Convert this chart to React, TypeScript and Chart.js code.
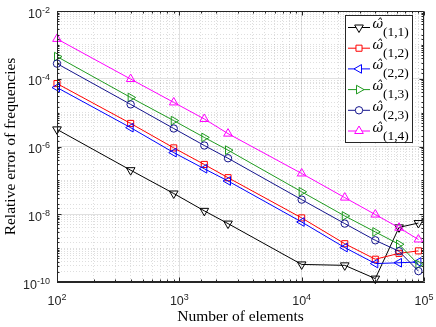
import React, { useEffect, useRef } from 'react';
import { Chart, registerables } from 'chart.js';

Chart.register(...registerables);

const elements = [100, 400, 900, 1600, 2500, 10000, 22500, 40000, 62500, 90000];
const err11 = [3.2e-6, 2.0e-7, 4.1e-8, 1.26e-8, 5.3e-9, 3.3e-10, 3.1e-10, 1.26e-10, 4.1e-9, 5.5e-9];
const err12 = [7.2e-5, 4.8e-6, 9.1e-7, 2.95e-7, 1.2e-7, 7.8e-9, 1.35e-9, 4.7e-10, 7.0e-10, 8.3e-10];
const err22 = [5.5e-5, 3.6e-6, 6.6e-7, 2.2e-7, 9.6e-8, 5.9e-9, 1.04e-9, 3.5e-10, 3.7e-10, 3.9e-10];
const err13 = [4.5e-4, 2.8e-5, 5.8e-6, 1.85e-6, 7.8e-7, 4.6e-8, 8.9e-9, 3.0e-9, 1.3e-9, 3.3e-10];
const err23 = [2.8e-4, 1.75e-5, 3.4e-6, 1.07e-6, 4.5e-7, 2.7e-8, 5.3e-9, 1.7e-9, 8.1e-10, 2.1e-10];
const err14 = [1.5e-3, 9.8e-5, 2.0e-5, 6.5e-6, 2.4e-6, 1.6e-7, 3.1e-8, 9.8e-9, 4.0e-9, 1.8e-9];

const seriesSubs = ['(1,1)', '(1,2)', '(2,2)', '(1,3)', '(2,3)', '(1,4)'];
const xTickExps = [2, 3, 4, 5];
const yTickExps = [-10, -8, -6, -4, -2];
const xTitle = 'Number of elements';
const yTitle = 'Relative error of frequencies';

const seriesValues = [err11, err12, err22, err13, err23, err14];
const seriesColors = ['#000000', '#ff0000', '#0000ff', '#1f9a1f', '#14148c', '#ff00ff'];
const seriesStyles = ['triangle', 'rect', 'triangle', 'triangle', 'circle', 'triangle'];
const seriesRot = [180, 0, 270, 90, 0, 0];
const seriesRadius = [5, 4.3, 5, 5, 3.7, 5];

const AXIS = '#262626';

function log10(v: number) { return Math.log10(v); }
function isPow10(v: number) { const l = log10(v); return Math.abs(l - Math.round(l)) < 1e-6; }
function majorX(v: number) { return isPow10(v); }
function majorY(v: number) { return isPow10(v) && Math.round(log10(v)) % 2 === 0; }

function drawMarker(ctx: CanvasRenderingContext2D, style: string, rot: number, x: number, y: number, r: number, fill: string) {
  ctx.beginPath();
  if (style === 'circle') {
    ctx.arc(x, y, r, 0, Math.PI * 2);
  } else if (style === 'rect') {
    const s = r * Math.SQRT1_2;
    ctx.rect(x - s, y - s, 2 * s, 2 * s);
  } else {
    let a = (rot * Math.PI) / 180;
    ctx.moveTo(x + Math.sin(a) * r, y - Math.cos(a) * r);
    for (let k = 0; k < 2; k++) {
      a += (2 * Math.PI) / 3;
      ctx.lineTo(x + Math.sin(a) * r, y - Math.cos(a) * r);
    }
    ctx.closePath();
  }
  ctx.fillStyle = fill;
  ctx.fill();
  ctx.stroke();
}

const overlay = {
  id: 'overlay',
  afterDraw(chart: any) {
    const { ctx, chartArea: a, scales } = chart;
    const xs = scales.x;
    const ys = scales.y;
    const L = Math.round(a.left) + 0.5;
    const R = Math.round(a.right) - 0.5;
    const T = Math.round(a.top) + 0.5;
    const B = Math.round(a.bottom) - 0.5;
    ctx.save();
    ctx.strokeStyle = AXIS;
    ctx.lineWidth = 1;
    ctx.beginPath();
    ctx.moveTo(L, T); ctx.lineTo(R, T); ctx.lineTo(R, B); ctx.lineTo(L, B); ctx.closePath();
    ctx.stroke();
    // inward tick marks
    ctx.beginPath();
    xs.ticks.forEach((t: any) => {
      const px = Math.round(xs.getPixelForValue(t.value)) + 0.5;
      const len = majorX(t.value) ? 4 : 2;
      ctx.moveTo(px, B); ctx.lineTo(px, B - len);
      ctx.moveTo(px, T); ctx.lineTo(px, T + len);
    });
    ys.ticks.forEach((t: any) => {
      const py = Math.round(ys.getPixelForValue(t.value)) + 0.5;
      const len = majorY(t.value) ? 4 : 2;
      ctx.moveTo(L, py); ctx.lineTo(L + len, py);
      ctx.moveTo(R, py); ctx.lineTo(R - len, py);
    });
    ctx.stroke();

    // tick labels
    ctx.fillStyle = AXIS;
    const baseFont = '12.5px "Liberation Sans", Arial, sans-serif';
    const expFont = '9px "Liberation Sans", Arial, sans-serif';
    ctx.textBaseline = 'alphabetic';
    ctx.textAlign = 'left';
    yTickExps.forEach((e) => {
      const py = ys.getPixelForValue(Math.pow(10, e));
      ctx.font = baseFont;
      const w1 = ctx.measureText('10').width;
      ctx.font = expFont;
      const es = String(e);
      const w2 = ctx.measureText(es).width;
      const right = a.left - 7;
      const x0 = right - w1 - w2;
      ctx.font = baseFont;
      ctx.fillText('10', x0, py + 6.5);
      ctx.font = expFont;
      ctx.fillText(es, x0 + w1, py + 1.5);
    });
    xTickExps.forEach((e) => {
      const px = xs.getPixelForValue(Math.pow(10, e));
      ctx.font = baseFont;
      const w1 = ctx.measureText('10').width;
      ctx.font = expFont;
      const es = String(e);
      const w2 = ctx.measureText(es).width;
      const x0 = px - (w1 + w2) / 2;
      ctx.font = baseFont;
      ctx.fillText('10', x0, 305);
      ctx.font = expFont;
      ctx.fillText(es, x0 + w1, 300);
    });

    // axis titles
    ctx.fillStyle = '#000';
    ctx.font = '15.5px "Liberation Serif", "DejaVu Serif", serif';
    ctx.textAlign = 'center';
    ctx.fillText(xTitle, (a.left + a.right) / 2, 321);
    ctx.save();
    ctx.translate(15, (a.top + a.bottom) / 2);
    ctx.rotate(-Math.PI / 2);
    ctx.fillText(yTitle, 0, 0);
    ctx.restore();

    // legend
    const lx0 = 345.5, ly0 = 15.5, lx1 = 412.5, ly1 = 142.5;
    ctx.fillStyle = '#fff';
    ctx.fillRect(lx0, ly0, lx1 - lx0, ly1 - ly0);
    ctx.strokeStyle = AXIS;
    ctx.strokeRect(lx0, ly0, lx1 - lx0, ly1 - ly0);
    seriesSubs.forEach((sub, i) => {
      const y = 27.5 + i * 20.7;
      ctx.strokeStyle = seriesColors[i];
      ctx.lineWidth = 1;
      ctx.beginPath();
      ctx.moveTo(348, y); ctx.lineTo(370, y);
      ctx.stroke();
      drawMarker(ctx, seriesStyles[i], seriesRot[i], 359, y, seriesRadius[i], '#fff');
      ctx.fillStyle = '#000';
      ctx.textAlign = 'left';
      ctx.font = 'italic 13px "DejaVu Serif", "Liberation Serif", serif';
      ctx.fillText('\u03C9\u0302', 372.5, y + 0.5);
      ctx.font = '13.5px "Liberation Serif", "DejaVu Serif", serif';
      ctx.fillText(sub, 383, y + 8.5);
    });
    ctx.restore();
  },
};

export default function App() {
  const ref = useRef<HTMLCanvasElement>(null);
  useEffect(() => {
    const canvas = ref.current;
    if (!canvas) return;
    const datasets = seriesValues.map((vals, i) => ({
      label: seriesSubs[i],
      data: elements.map((x, k) => ({ x, y: vals[k] })),
      borderColor: seriesColors[i],
      backgroundColor: 'rgba(0,0,0,0)',
      pointBackgroundColor: 'rgba(0,0,0,0)',
      pointBorderColor: seriesColors[i],
      pointStyle: seriesStyles[i],
      pointRotation: seriesRot[i],
      pointRadius: seriesRadius[i],
      pointBorderWidth: 1,
      borderWidth: 1,
      tension: 0,
      clip: false as any,
      order: 10 - i,
    }));
    const gridColor = (major: (v: number) => boolean) => (c: any) =>
      c.tick && major(c.tick.value) ? 'rgba(0,0,0,0.12)' : 'rgba(0,0,0,0.13)';
    const gridDash = (major: (v: number) => boolean) => (c: any) =>
      c.tick ? (major(c.tick.value) ? [] : [1, 2]) : [];
    const chart = new Chart(canvas, {
      type: 'line',
      data: { datasets },
      plugins: [overlay],
      options: {
        responsive: false,
        animation: false,
        devicePixelRatio: 1,
        layout: { padding: { top: 11, right: 12, left: 0, bottom: 0 } },
        plugins: { legend: { display: false }, tooltip: { enabled: false }, title: { display: false } },
        scales: {
          x: {
            type: 'logarithmic',
            min: 100,
            max: 100000,
            afterFit: (s: any) => { s.height = 45; },
            ticks: { display: false },
            grid: { color: gridColor(majorX), drawTicks: false, tickLength: 0, lineWidth: 1 },
            border: { display: true, color: AXIS, dash: gridDash(majorX) },
          },
          y: {
            type: 'logarithmic',
            min: 1e-10,
            max: 1e-2,
            afterFit: (s: any) => { s.width = 57; },
            ticks: { display: false },
            grid: { color: gridColor(majorY), drawTicks: false, tickLength: 0, lineWidth: 1 },
            border: { display: true, color: AXIS, dash: gridDash(majorY) },
          },
        },
      } as any,
    });
    return () => chart.destroy();
  }, []);
  return (
    <div style={{ position: 'absolute', left: 0, top: 0, width: 436, height: 327, background: '#fff' }}>
      <canvas ref={ref} width={436} height={327} style={{ display: 'block', width: 436, height: 327 }} />
    </div>
  );
}
